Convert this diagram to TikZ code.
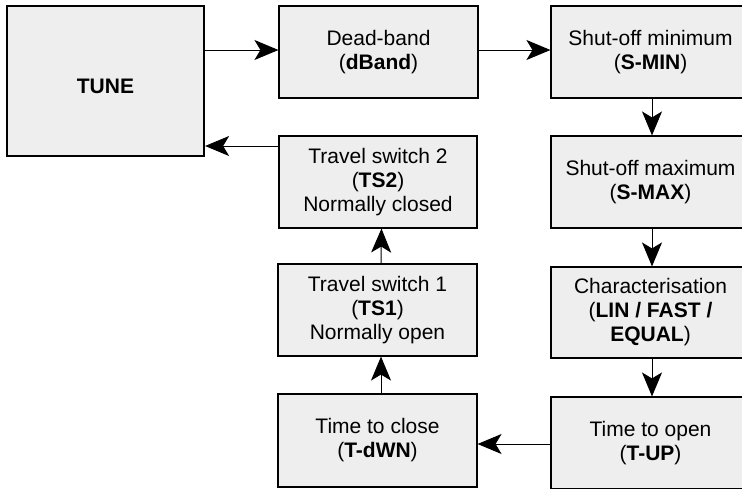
\documentclass[tikz,border=0pt]{standalone}
\usepackage{fontspec}
\setmainfont{Liberation Sans}
\usetikzlibrary{arrows.meta}
\definecolor{boxgray}{RGB}{238,238,238}
\begin{document}
\begin{tikzpicture}[x=1pt,y=-1pt,
  box/.style={draw=black, line width=1.1pt, fill=boxgray, minimum width=199pt,
    minimum height=92pt, inner sep=0pt, align=center,
    font=\fontsize{21}{24}\selectfont},
  tunebox/.style={box, line width=2.2pt, minimum width=197pt, minimum height=150pt},
  arr/.style={line width=1pt, -{Stealth[length=24pt,width=20pt,inset=6pt]}}]
\path[use as bounding box] (0,0) rectangle (742,488);
\clip (0,0) rectangle (742,488);
\node[tunebox] (tune) at (105.5,81) {};
\node[font=\fontsize{21}{24}\selectfont\bfseries, anchor=base] (tunetxt) at (105.5,93) {TUNE};
\node[box] (dband) at (378.5,52) {Dead-band\\(\textbf{dBand})};
\node[box] (smin) at (650.5,52) {Shut-off minimum\\(\textbf{S-MIN})};
\node[box, minimum width=198pt] (ts2) at (378,182) {Travel switch 2\\(\textbf{TS2})\\Normally closed};
\node[box] (smax) at (650.5,182) {Shut-off maximum\\(\textbf{S-MAX})};
\node[box] (ts1) at (377.5,310) {Travel switch 1\\(\textbf{TS1})\\Normally open};
\node[box, minimum height=91pt] (char) at (650.5,312.5) {Characterisation\\(\textbf{LIN / FAST /}\\\textbf{EQUAL})};
\node[box, minimum height=93pt] (tdwn) at (377.5,440.5) {Time to close\\(\textbf{T-dWN})};
\node[box] (tup) at (650.5,443) {Time to open\\(\textbf{T-UP})};
% connectors
\draw[arr] (tune.east |- 0,50) -- (dband.west |- 0,50);
\draw[arr] (dband.east |- 0,50) -- (smin.west |- 0,50);
\draw[arr] ([xshift=1.5pt]smin.south) -- ([xshift=1.5pt]smax.north);
\draw[arr] ([xshift=1.5pt]smax.south) -- ([xshift=1.5pt]char.north);
\draw[arr] ([xshift=1.5pt]char.south) -- ([xshift=1.5pt]tup.north);
\draw[arr] (tup.west |- 0,444) -- (tdwn.east |- 0,444);
\draw[arr] ([xshift=3.5pt]tdwn.north) -- ([xshift=3.5pt]ts1.south);
\draw[arr] ([xshift=3.5pt]ts1.north) -- ([xshift=3.5pt]ts2.south);
\draw[arr] (ts2.west |- 0,146) -- (tune.east |- 0,146);
\end{tikzpicture}
\end{document}
